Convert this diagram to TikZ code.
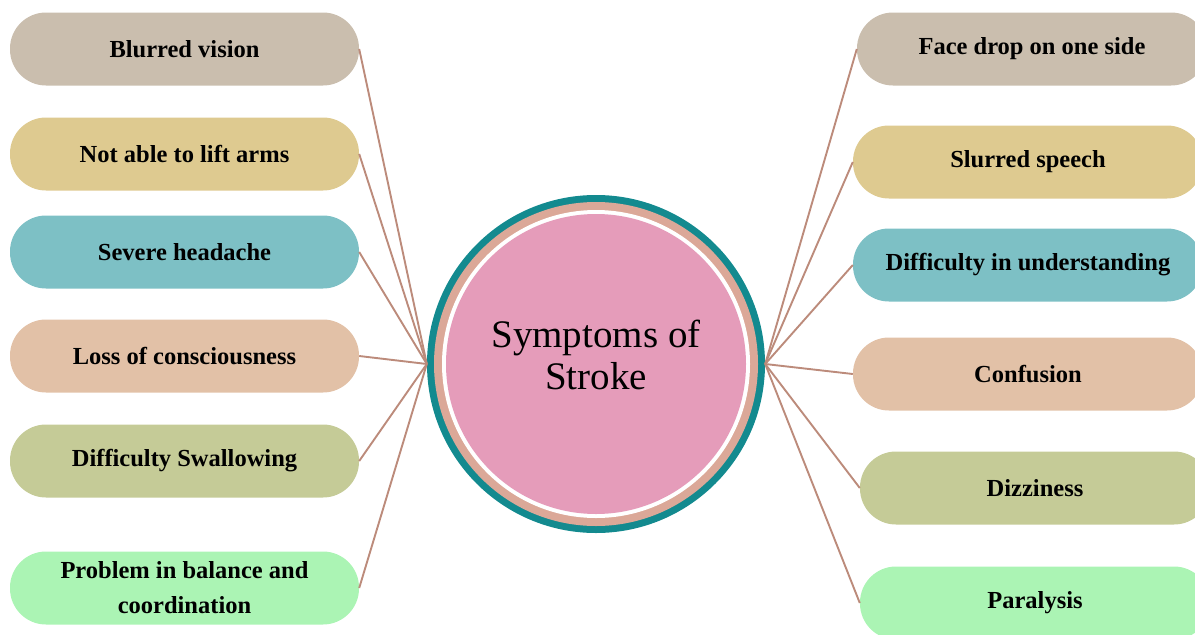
\documentclass[tikz,border=0pt]{standalone}
\usepackage{fontspec}
\setmainfont{Liberation Serif}
\definecolor{tealc}{HTML}{138A8F}
\definecolor{ringc}{HTML}{DBA898}
\definecolor{pinkc}{HTML}{E59CBA}
\definecolor{linec}{HTML}{BC8B7B}
\definecolor{cgray}{HTML}{CABEAE}
\definecolor{cmust}{HTML}{DECA90}
\definecolor{cteal}{HTML}{7DC0C5}
\definecolor{cpeach}{HTML}{E2C1A7}
\definecolor{colive}{HTML}{C5CB97}
\definecolor{cmint}{HTML}{ABF4B4}
\begin{document}
\begin{tikzpicture}[x=1pt,y=-1pt,
  symbox/.style={rounded corners=36pt, minimum height=73pt, inner sep=0pt,
    font=\bfseries\fontsize{24.5}{35}\selectfont, align=center},
  leftbox/.style={symbox, minimum width=349pt},
  rightbox/.style={symbox, minimum width=350pt},
  link/.style={draw=linec, line width=1.9pt}]
\useasboundingbox (0,0) rectangle (1195,635);
\clip (0,0) rectangle (1195,635);
% left boxes
\node[leftbox, fill=cgray]  (b1) at (184.5,49)  {Blurred vision};
\node[leftbox, fill=cmust]  (b2) at (184.5,154) {Not able to lift arms};
\node[leftbox, fill=cteal]  (b3) at (184.5,252) {Severe headache};
\node[leftbox, fill=cpeach] (b4) at (184.5,356) {Loss of consciousness};
\node[leftbox, fill=colive] (b5) at (184.5,461) {Difficulty Swallowing};
\node[leftbox, fill=cmint]  (b6) at (184.5,588) {Problem in balance and\\coordination};
% right boxes
\node[rightbox, fill=cgray]  (r1) at (1032,49)  {Face drop on one side};
\node[rightbox, fill=cmust]  (r2) at (1028,162) {Slurred speech};
\node[rightbox, fill=cteal]  (r3) at (1028,265) {Difficulty in understanding};
\node[rightbox, fill=cpeach] (r4) at (1028,374) {Confusion};
\node[rightbox, fill=colive] (r5) at (1035,488) {Dizziness};
\node[rightbox, fill=cmint]  (r6) at (1035,603) {Paralysis};
% centre circle
\node[circle, fill=tealc, minimum size=338pt, inner sep=0pt] (c) at (596,364) {};
\fill[ringc] (c.center) circle (162pt);
\fill[white] (c.center) circle (154pt);
\fill[pinkc] (c.center) circle (150pt);
\node[font=\fontsize{39}{42}\selectfont, align=center] (ct) at (596,355) {Symptoms of\\Stroke};
% connectors
\foreach \b in {b1,b2,b3,b4,b5,b6} \draw[link] (\b.east) -- (c.west);
\foreach \r in {r1,r2,r3,r4,r5,r6} \draw[link] (\r.west) -- (c.east);
\end{tikzpicture}
\end{document}
